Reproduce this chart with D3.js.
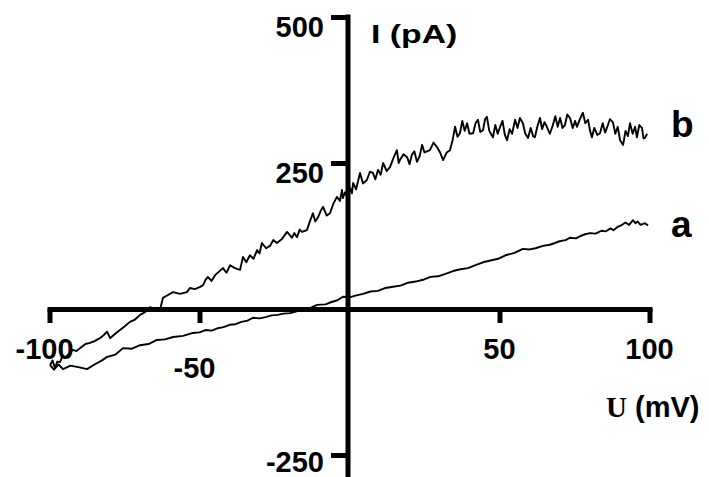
<!DOCTYPE html>
<html>
<head>
<meta charset="utf-8">
<script src="https://cdn.jsdelivr.net/npm/d3@7"></script>
<style>
  html, body { margin: 0; padding: 0; background: #fff; }
  svg { display: block; }
  text { font-family: "Liberation Sans", Arial, sans-serif; font-weight: bold; fill: #000; }
</style>
</head>
<body>
<svg id="chart" width="709" height="477"></svg>
<script>
// ---- data ----
const xTickValues = [-100, -50, 50, 100];
const xTickLabels = ["-100", "-50", "50", "100"];
const yTickValues = [500, 250, -250];
const yTickLabels = ["500", "250", "-250"];
const seriesNames = ["a", "b"];

// trace a: [U (mV), I (pA)]
const traceA = [
  [-99.8,-96],[-98.5,-104],[-97,-95],[-95.5,-103],[-93,-97],[-90,-100],[-87.5,-103],
  [-85,-95],[-82.5,-88],[-80.8,-82],[-78,-78],[-75.5,-67],[-72.5,-68],[-69.8,-62],
  [-67,-60],[-64.2,-53],[-61.5,-52],[-58.8,-48],[-55.5,-46],[-52.2,-41],[-50,-40],[-48,-36],
  [-46,-37],[-44,-33],[-42,-31],[-40,-27],[-38,-26],[-36,-22],[-34,-20],[-32.2,-15],[-30,-16],
  [-28,-14],[-26,-11],[-24,-10],[-22,-8],[-19.8,-7],[-17,-3],[-15,0],[-13,2],[-10.8,7],[-8,8],
  [-6,12],[-4,15],[-2.2,21],[0,20],[2,23],[4.5,26],[7,30],[9.5,31],[12,36],[14.5,38],[17,40],
  [19.5,45],[22,47],[24.5,50],[27,55],[29.5,56],[32,60],[34.5,65],[37,68],[39.5,70],[42,75],
  [44.5,80],[47,83],[49.5,86],[52,92],[55,96],[57.8,103],[60,102],[62,104],[64.5,108],
  [66.8,110],[68.5,113],[70,116],[72,118],[73.5,122],[75.5,121],[77,125],[78.5,128],[80.2,130],
  [82,129],[84,134],[85.5,133],[87,138],[88,135],[89.2,140],[90.5,143],[92,148],[93.2,144],
  [94.5,152],[95.3,147],[96,150],[97,144],[98.5,147],[99.5,143]
];

// trace b: [U (mV), I (pA)]
const traceB = [
  [-99.8,-96],[-99,-88],[-98.2,-101],[-97.4,-90],[-96.5,-91],[-95.6,-80],[-94.8,-84],
  [-93.4,-76],[-92.2,-70],[-91,-72],[-89.8,-67],[-88,-60],[-86.5,-58],[-85,-55],[-83.2,-50],
  [-82,-45],[-80.8,-39],[-79.8,-50],[-78,-42],[-76.5,-36],[-75,-30],[-73.2,-22],[-71.5,-18],
  [-69.8,-10],[-68,-5],[-66.5,3],[-65,0],[-63.2,-2],[-62.2,19],[-60.5,24],[-58.8,29],
  [-56.5,26],[-54.2,29],[-53.2,36],[-51.5,34],
  [-49.8,38],[-48.8,41],[-48,50],[-47.2,55],[-46,48],[-44.8,58],[-43.5,64],[-42.2,70],
  [-41,62],[-39.8,75],[-38.2,70],[-36.5,67],[-35.5,89],[-34.4,80],[-33.2,92],[-32,86],
  [-30.8,101],[-30,95],[-29.2,113],[-27.8,104],[-26.5,108],[-25.4,118],[-24.2,113],
  [-22.5,120],[-20.8,132],[-19.2,122],[-18.4,130],[-17.5,123],[-16.6,136],[-15.8,132],
  [-14.2,135],[-13.2,150],[-12.2,164],[-11.4,150],[-10.5,157],[-9.6,168],[-8.8,175],
  [-7.6,160],[-6.5,164],[-5.4,180],[-4.2,192],[-3.2,185],[-2.5,204],[-2.2,190],[-1.5,200],
  [-0.8,192],
  [0.2,207],[0.8,198],[1.2,216],[2.2,205],[3.5,233],[4.5,215],[5.8,221],[6.8,235],[7.8,233],
  [8.6,222],[9.5,238],[10.4,230],[11.2,250],[12.4,236],[13.5,243],[14.6,258],[15.8,272],
  [16.4,250],[16.8,255],[18,265],[19.2,260],[20,248],[20.8,264],[21.6,270],[22.5,252],
  [23.4,262],[24.2,281],[25,268],[26.8,272],[28,285],[29.2,277],[30.2,268],[31.2,255],
  [32.4,268],[33.5,272],[34.4,290],
  [35.2,312],[36,295],[36.8,301],[37.6,322],[38.4,305],[39.2,318],[40,300],[41.2,301],
  [42,318],[42.8,324],[43.6,303],[44.5,306],[45.2,325],[45.8,329],[46.6,305],[47.8,294],
  [48.6,315],[49.4,300],[50.2,312],[51,322],[51.8,298],[52.5,289],[53.4,308],[54.2,300],
  [55.2,324],[56,310],[56.8,327],[57.8,318],[58.6,300],[59.5,293],[60.4,310],[61.2,296],
  [61.8,294],[62.6,312],[63.5,327],[64.2,308],[65,320],[65.8,312],[66.8,300],[67.8,315],
  [68.6,330],[69.4,312],[70.2,327],[71,310],[71.8,315],[72.6,333],[73.5,327],[74.4,310],
  [75.2,322],[75.8,312],[76.8,325],[77.8,336],[78.6,318],[79.5,324],[80.2,305],[80.8,294],
  [81.6,310],[82.6,298],[83.5,301],[84.4,318],[85.2,302],[85.8,310],[86.8,325],[87.8,320],
  [88.6,300],[89.4,312],[90.2,289],[91.2,281],[92,305],[92.8,296],[93.5,318],[94.4,300],
  [95.2,312],[95.8,294],[96.6,315],[97.5,310],[98,292],[98.5,293],[99.2,300]
];

// ---- layout ----
const svg = d3.select("#chart");
const x = d3.scaleLinear().domain([-100, 100]).range([49.5, 649.5]);
const y = d3.scaleLinear().domain([-250, 500]).range([455, 17]);
const axisW = 5;

// X axis
const gx = svg.append("g").attr("transform", `translate(0,${y(0)})`)
  .call(d3.axisBottom(x).tickValues(xTickValues).tickSize(14).tickSizeOuter(0).tickFormat(""));
gx.select(".domain").attr("stroke", "#000").attr("stroke-width", axisW).attr("stroke-linecap", "square");
gx.selectAll(".tick line").attr("stroke", "#000").attr("stroke-width", axisW);

// Y axis
const gy = svg.append("g").attr("transform", `translate(${x(0) - 1.5},0)`)
  .call(d3.axisLeft(y).tickValues(yTickValues).tickSize(17).tickSizeOuter(0).tickFormat(""));
gy.select(".domain").remove();
gy.append("line").attr("x1", 0).attr("x2", 0).attr("y1", y(500) - 2.5).attr("y2", 477)
  .attr("stroke", "#000").attr("stroke-width", axisW);
gy.selectAll(".tick line").attr("stroke", "#000").attr("stroke-width", axisW);

// tick labels
svg.append("g").selectAll("text").data(yTickValues).join("text")
  .attr("x", 324).attr("y", d => y(d) + (d < 0 ? 17 : 20))
  .attr("text-anchor", "end").attr("font-size", 29)
  .text((d, i) => yTickLabels[i]);

svg.append("g").selectAll("text").data(xTickValues).join("text")
  .attr("x", d => x(d)).attr("dx", d => d < 0 ? -5 : 0)
  .attr("y", d => y(0) + (d === -50 ? 69 : 50))
  .attr("text-anchor", "middle").attr("font-size", 29)
  .text((d, i) => xTickLabels[i]);

// traces
const line = d3.line().x(d => x(d[0])).y(d => y(d[1]));
[traceA, traceB].forEach(tr => {
  svg.append("path").datum(tr).attr("d", line)
    .attr("fill", "none").attr("stroke", "#000").attr("stroke-width", 1.9)
    .attr("stroke-linejoin", "round");
});

// series labels
svg.append("text").attr("x", 671).attr("y", 137).attr("font-size", 37).text(seriesNames[1]);
svg.append("text").attr("x", 671).attr("y", 237).attr("font-size", 37).text(seriesNames[0]);

// axis titles
svg.append("text").attr("transform", "translate(371,43) scale(1.3,1)")
  .attr("font-size", 26).text("I (pA)");
const ut = svg.append("text").attr("x", 606).attr("y", 417).attr("font-size", 29);
ut.append("tspan").attr("font-family", "'Liberation Serif', 'Times New Roman', serif").text("U");
ut.append("tspan").text(" (mV)");
</script>
</body>
</html>
